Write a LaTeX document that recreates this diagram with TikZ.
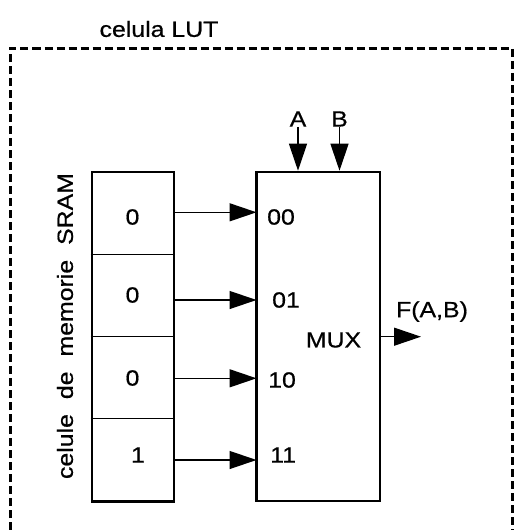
\documentclass[tikz,border=0pt]{standalone}
\usepackage{fontspec}
\setmainfont[FakeStretch=1.13,FakeBold=0.6]{Liberation Sans}
\usetikzlibrary{arrows.meta}
\begin{document}
\begin{tikzpicture}[x=1pt,y=-1pt,
  font=\fontsize{22}{26}\selectfont,
  box/.style={draw, line width=2.6pt, inner sep=0pt},
  thinline/.style={line width=1.3pt},
  tip/.style={thinline, -{Triangle[length=27pt,width=18pt]}},
  lbl/.style={inner sep=0pt},
  cell/.style={inner sep=0pt}]
\useasboundingbox (0,0) rectangle (514,530);
% dashed outer frame
\draw[line width=3pt, dash pattern=on 8pt off 4pt] (10,530) -- (10,48.5) -- (512,48.5) -- (512,530);
\node[lbl] (title) at (159,29) {celula LUT};
% memory block
\node[box, minimum width=82pt, minimum height=329.5pt] (mem) at (133,336.7) {};
\draw[thinline] (mem.west |- 0,254.5) -- (mem.east |- 0,254.5);
\draw[thinline] (mem.west |- 0,336.7) -- (mem.east |- 0,336.7);
\draw[thinline] (mem.west |- 0,418.7) -- (mem.east |- 0,418.7);
\node[cell] (c1) at (132.5,217) {0};
\node[cell] (c2) at (132.5,295) {0};
\node[cell] (c3) at (132.5,378) {0};
\node[cell] (c4) at (138,455) {1};
\node[lbl, rotate=90] (memlbl) at (65,326) {\makebox[306pt][s]{celule de memorie SRAM}};
% mux
\node[box, minimum width=123.5pt, minimum height=329pt] (mux) at (318.25,336.5) {};
\node[lbl, anchor=west] (l00) at (267,217) {00};
\node[lbl, anchor=west] (l01) at (272,300) {01};
\node[lbl, anchor=west] (l10) at (268,380) {10};
\node[lbl, anchor=west] (l11) at (270,455) {11};
\node[lbl] (muxlbl) at (333.5,340) {MUX};
% inputs
\coordinate (in1) at (256.5,212.3);
\coordinate (in2) at (256.5,300);
\coordinate (in3) at (256.5,378.3);
\coordinate (in4) at (256.5,460);
\draw[tip] (mem.east |- in1) -- (in1);
\draw[tip] (mem.east |- in2) -- (in2);
\draw[tip] (mem.east |- in3) -- (in3);
\draw[tip] (mem.east |- in4) -- (in4);
% select inputs
\node[lbl] (A) at (298,119) {A};
\node[lbl] (B) at (339.5,119) {B};
\draw[tip] (A.south) -- (A.south |- mux.north);
\draw[tip] (B.south) -- (B.south |- mux.north);
% output
\coordinate (out) at (421,336.7);
\draw[tip] (mux.east |- out) -- (out);
\node[lbl] (F) at (432,311.5) {F(A,B)};
\end{tikzpicture}
\end{document}
